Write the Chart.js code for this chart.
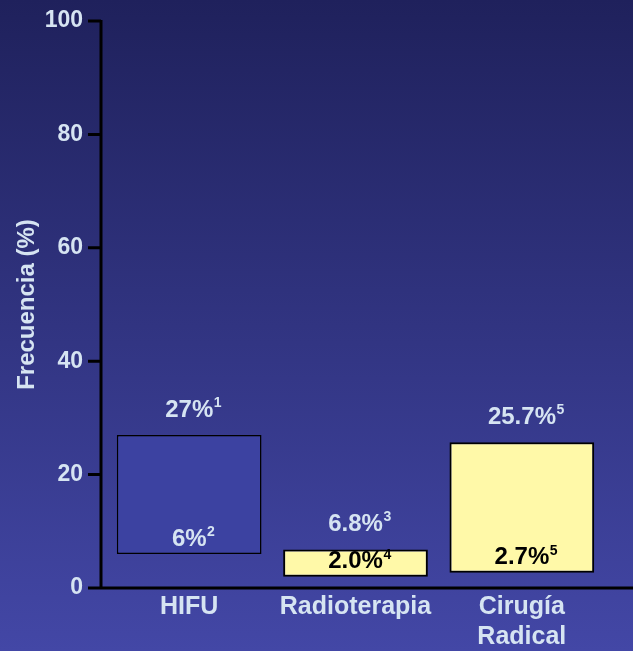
<!DOCTYPE html>
<html>
<head>
<meta charset="utf-8">
<script src="https://cdn.jsdelivr.net/npm/chart.js@4.4.1/dist/chart.umd.min.js"></script>
<style>
  html, body { margin: 0; padding: 0; background: #2a2d7a; }
  #wrap { width: 633px; height: 651px; }
</style>
</head>
<body>
<div id="wrap"><canvas id="c" width="633" height="651"></canvas></div>
<script>
// Treatment groups and the frequency range (%) reported for each
const categories = ['HIFU', 'Radioterapia', ['Cirugía', 'Radical']];
const lowValues = [6, 2.0, 2.7];
const highValues = [27, 6.8, 25.7];
const valueDecimals = [0, 1, 1];
const lowRefs = ['2', '4', '5'];
const highRefs = ['1', '3', '5'];
const yTicks = [0, 20, 40, 60, 80, 100];

const barFills = ['#3c42a1', '#fff9a8', '#fff9a8'];
const barBorders = [1.5, 2, 2];
const innerTextColors = ['#d6e4f2', '#000000', '#000000'];
const LIGHT = '#d6e4f2';
const FONT = '"Liberation Sans", Arial, sans-serif';

const background = {
  id: 'background',
  beforeDraw(chart) {
    const { ctx, width, height } = chart;
    const g = ctx.createLinearGradient(0, 0, 0, height);
    g.addColorStop(0, '#1f215c');
    g.addColorStop(1, '#4347a6');
    ctx.save();
    ctx.fillStyle = g;
    ctx.fillRect(0, 0, width, height);
    ctx.restore();
  }
};

// Axis lines and tick marks, placed with the chart's own y scale
const axes = {
  id: 'axes',
  afterDatasetsDraw(chart) {
    const { ctx, width } = chart;
    const y = chart.scales.y;
    const axisX = 101;
    const y0 = y.getPixelForValue(0);
    ctx.save();
    ctx.strokeStyle = '#000';
    ctx.lineWidth = 3;
    ctx.beginPath();
    ctx.moveTo(axisX, y.getPixelForValue(100) - 1);
    ctx.lineTo(axisX, y0 + 1.5);
    ctx.moveTo(88, y0);
    ctx.lineTo(width, y0);
    yTicks.forEach(v => {
      const py = y.getPixelForValue(v);
      ctx.moveTo(88, py);
      ctx.lineTo(axisX, py);
    });
    ctx.stroke();
    ctx.restore();
  }
};

function drawSupText(ctx, main, sup, cx, cy, color) {
  const mainFont = 'bold 24px ' + FONT;
  const supFont = 'bold 14px ' + FONT;
  ctx.font = mainFont;
  const wMain = ctx.measureText(main).width;
  ctx.font = supFont;
  const wSup = ctx.measureText(sup).width;
  const x0 = cx - (wMain + wSup) / 2;
  ctx.fillStyle = color;
  ctx.textBaseline = 'middle';
  ctx.textAlign = 'left';
  ctx.font = mainFont;
  ctx.fillText(main, x0, cy);
  ctx.font = supFont;
  ctx.fillText(sup, x0 + wMain + 0.5, cy - 7);
}

// Range labels: upper value above each bar, lower value inside near its base
const rangeLabels = {
  id: 'rangeLabels',
  afterDatasetsDraw(chart) {
    const { ctx } = chart;
    const meta = chart.getDatasetMeta(0);
    ctx.save();
    meta.data.forEach((bar, i) => {
      const cx = bar.x + 4;
      const top = Math.min(bar.y, bar.base);
      const bottom = Math.max(bar.y, bar.base);
      const hi = highValues[i].toFixed(valueDecimals[i]) + '%';
      const lo = lowValues[i].toFixed(valueDecimals[i]) + '%';
      drawSupText(ctx, hi, highRefs[i], cx, top - 25, LIGHT);
      drawSupText(ctx, lo, lowRefs[i], cx, bottom - 15, innerTextColors[i]);
    });
    ctx.restore();
  }
};

new Chart(document.getElementById('c'), {
  type: 'bar',
  data: {
    labels: categories,
    datasets: [{
      data: categories.map((_, i) => [lowValues[i], highValues[i]]),
      backgroundColor: barFills,
      borderColor: '#000',
      borderWidth: barBorders,
      borderSkipped: false,
      barPercentage: 0.87,
      categoryPercentage: 1
    }]
  },
  options: {
    responsive: false,
    animation: false,
    layout: { padding: { top: 21, right: 28, left: 0, bottom: 0 } },
    plugins: { legend: { display: false }, tooltip: { enabled: false } },
    scales: {
      x: {
        grid: { display: false, drawTicks: false },
        border: { display: false },
        ticks: {
          color: LIGHT,
          font: { family: FONT, size: 25, weight: 'bold' },
          padding: 4,
          maxRotation: 0,
          autoSkip: false
        },
        afterFit(scale) { scale.height = 63; }
      },
      y: {
        min: 0,
        max: 100,
        afterBuildTicks(scale) { scale.ticks = yTicks.map(v => ({ value: v })); },
        grid: { display: false, drawTicks: false },
        border: { display: false },
        ticks: {
          color: LIGHT,
          font: { family: FONT, size: 23, weight: 'bold' },
          padding: 23
        },
        title: {
          display: true,
          text: 'Frecuencia (%)',
          color: LIGHT,
          font: { family: FONT, size: 24, weight: 'bold' },
          padding: { top: 13, bottom: 0 }
        },
        afterFit(scale) {
          scale.width = 106;
          scale.paddingTop = 0;
          scale.paddingBottom = 0;
        }
      }
    }
  },
  plugins: [background, axes, rangeLabels]
});
</script>
</body>
</html>
